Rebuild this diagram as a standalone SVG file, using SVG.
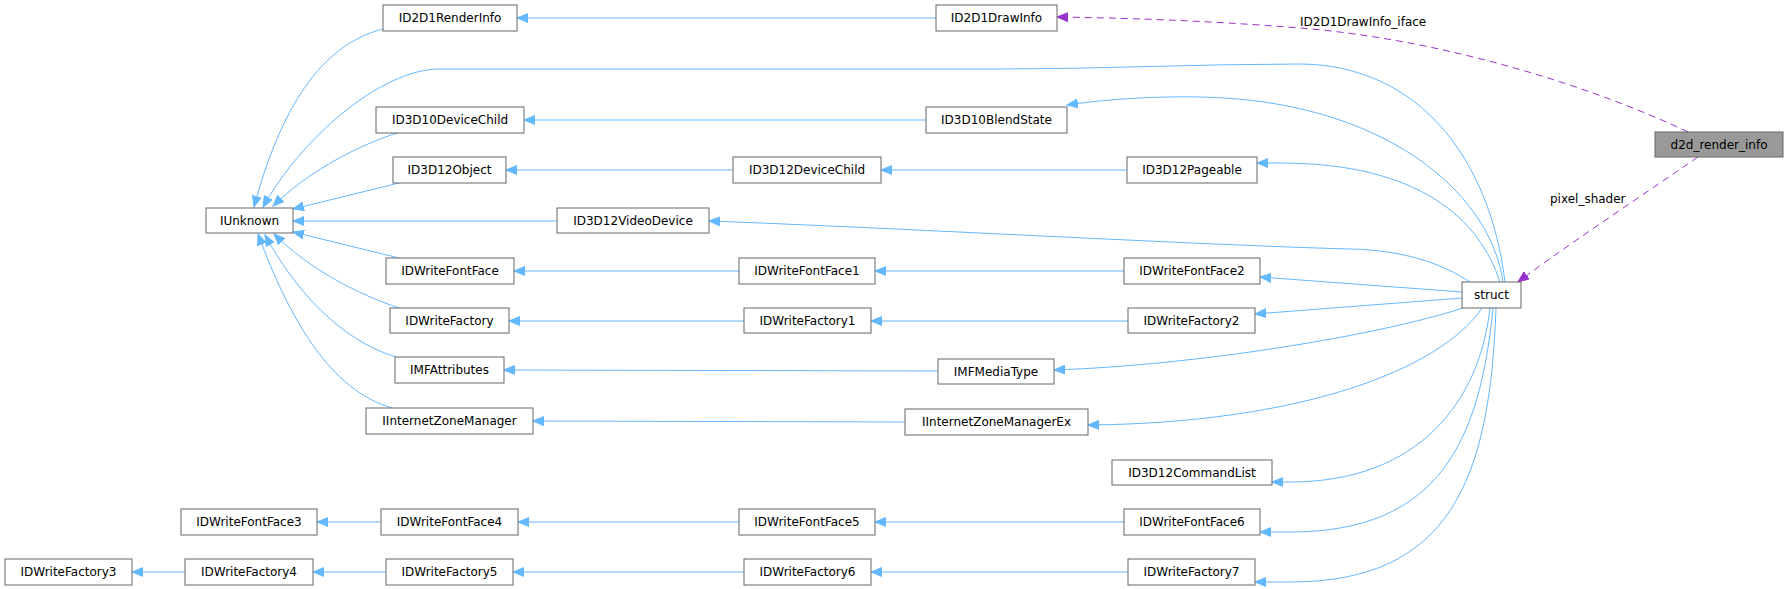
<svg xmlns="http://www.w3.org/2000/svg" width="1788" height="589" viewBox="0 0 1788 589">
<style>
.n rect{fill:#fff;stroke:#666;stroke-width:1}
.n text{font-family:"DejaVu Sans",sans-serif;font-size:12px;fill:#000;text-anchor:middle}
.e path{fill:none;stroke:#63b8ff;stroke-width:1;marker-end:url(#ab)}
.e path.d{stroke:#9a32cd;stroke-dasharray:7,5;marker-end:url(#ap)}
.lbl{font-family:"DejaVu Sans",sans-serif;font-size:12px;fill:#000}
</style>
<defs>
<marker id="ab" markerUnits="userSpaceOnUse" markerWidth="12" markerHeight="10" refX="11" refY="5" orient="auto"><path d="M0,0.5 L11,5 L0,9.5 z" fill="#63b8ff" stroke="#63b8ff"/></marker>
<marker id="ap" markerUnits="userSpaceOnUse" markerWidth="12" markerHeight="10" refX="11" refY="5" orient="auto"><path d="M0,0.5 L11,5 L0,9.5 z" fill="#9a32cd" stroke="#9a32cd"/></marker>
</defs>
<g class="e" id="edges">
<path d="M936,18 L517,18"/>
<path d="M926,120 L524,120"/>
<path d="M733,170 L506,170"/>
<path d="M1127,170 L881,170"/>
<path d="M557,221 L293,221"/>
<path d="M739,271 L514,271"/>
<path d="M1124,271 L875,271"/>
<path d="M744,321 L509,321"/>
<path d="M1128,321 L871,321"/>
<path d="M938,371 L504,370"/>
<path d="M905,422 L533,421"/>
<path d="M381,522 L317,522"/>
<path d="M739,522 L518,522"/>
<path d="M1124,522 L875,522"/>
<path d="M185,572 L132,572"/>
<path d="M386,572 L313,572"/>
<path d="M744,572 L513,572"/>
<path d="M1128,572 L871,572"/>
<path d="M383,29 C320,45 280,110 254,207"/>
<path d="M1505,282 C1490,160 1420,65 1300,64 C1200,64 1100,69 1000,69 L440,69 C380,69 300,140 263,207"/>
<path d="M400,132 C350,148 305,175 273,206"/>
<path d="M399,183 L293,209"/>
<path d="M399,258 L293,232"/>
<path d="M399,308 C360,295 310,270 274,234"/>
<path d="M396,357 C340,340 295,290 265,235"/>
<path d="M392,408 C330,390 290,320 258,234"/>
<path d="M1503,282 C1490,190 1380,100 1200,97 C1150,96 1100,100 1067,105"/>
<path d="M1500,282 C1480,220 1420,163 1280,163 L1257,163"/>
<path d="M1470,282 C1440,262 1400,250 1350,249 C1200,245 900,228 709,221"/>
<path d="M1462,292 L1260,277"/>
<path d="M1462,298 L1255,314"/>
<path d="M1463,308 C1380,335 1200,365 1054,370"/>
<path d="M1482,308 C1440,370 1300,423 1088,425"/>
<path d="M1490,308 C1480,400 1420,482 1290,482 L1272,482"/>
<path d="M1493,308 C1480,440 1440,532 1290,532 L1260,532"/>
<path d="M1496,308 C1490,480 1450,582 1290,582 L1255,582"/>
<path class="d" d="M1688,132 C1600,90 1450,40 1300,28 C1200,20 1120,18 1057,17"/>
<path class="d" d="M1698,157 C1650,190 1560,250 1518,282"/>
</g>
<text class="lbl" x="1300" y="26">ID2D1DrawInfo_iface</text>
<text class="lbl" x="1550" y="203">pixel_shader</text>
<g class="n" id="d2d_render_info"><rect x="1655" y="132" width="128" height="25" style="fill:#999"/><text x="1719" y="149">d2d_render_info</text></g>
<g class="n" id="struct"><rect x="1462" y="282" width="59" height="26"/><text x="1491.5" y="299">struct</text></g>
<g class="n" id="ID2D1RenderInfo"><rect x="383" y="5" width="134" height="26"/><text x="450" y="22">ID2D1RenderInfo</text></g>
<g class="n" id="ID2D1DrawInfo"><rect x="936" y="5" width="121" height="26"/><text x="996.5" y="22">ID2D1DrawInfo</text></g>
<g class="n" id="ID3D10DeviceChild"><rect x="376" y="107" width="148" height="26"/><text x="450" y="124">ID3D10DeviceChild</text></g>
<g class="n" id="ID3D10BlendState"><rect x="926" y="107" width="141" height="26"/><text x="996.5" y="124">ID3D10BlendState</text></g>
<g class="n" id="ID3D12Object"><rect x="393" y="157" width="113" height="26"/><text x="449.5" y="174">ID3D12Object</text></g>
<g class="n" id="ID3D12DeviceChild"><rect x="733" y="157" width="148" height="26"/><text x="807" y="174">ID3D12DeviceChild</text></g>
<g class="n" id="ID3D12Pageable"><rect x="1127" y="157" width="130" height="26"/><text x="1192" y="174">ID3D12Pageable</text></g>
<g class="n" id="IUnknown"><rect x="206" y="208" width="87" height="25"/><text x="249.5" y="225">IUnknown</text></g>
<g class="n" id="ID3D12VideoDevice"><rect x="557" y="208" width="152" height="25"/><text x="633" y="225">ID3D12VideoDevice</text></g>
<g class="n" id="IDWriteFontFace"><rect x="386" y="258" width="128" height="26"/><text x="450" y="275">IDWriteFontFace</text></g>
<g class="n" id="IDWriteFontFace1"><rect x="739" y="258" width="136" height="26"/><text x="807" y="275">IDWriteFontFace1</text></g>
<g class="n" id="IDWriteFontFace2"><rect x="1124" y="258" width="136" height="26"/><text x="1192" y="275">IDWriteFontFace2</text></g>
<g class="n" id="IDWriteFactory"><rect x="390" y="308" width="119" height="25"/><text x="449.5" y="325">IDWriteFactory</text></g>
<g class="n" id="IDWriteFactory1"><rect x="744" y="308" width="127" height="25"/><text x="807.5" y="325">IDWriteFactory1</text></g>
<g class="n" id="IDWriteFactory2"><rect x="1128" y="308" width="127" height="25"/><text x="1191.5" y="325">IDWriteFactory2</text></g>
<g class="n" id="IMFAttributes"><rect x="395" y="357" width="109" height="26"/><text x="449.5" y="374">IMFAttributes</text></g>
<g class="n" id="IMFMediaType"><rect x="938" y="359" width="116" height="25"/><text x="996" y="376">IMFMediaType</text></g>
<g class="n" id="IInternetZoneManager"><rect x="366" y="408" width="167" height="26"/><text x="449.5" y="425">IInternetZoneManager</text></g>
<g class="n" id="IInternetZoneManagerEx"><rect x="905" y="409" width="183" height="26"/><text x="996.5" y="426">IInternetZoneManagerEx</text></g>
<g class="n" id="ID3D12CommandList"><rect x="1112" y="460" width="160" height="25"/><text x="1192" y="477">ID3D12CommandList</text></g>
<g class="n" id="IDWriteFontFace3"><rect x="181" y="509" width="136" height="26"/><text x="249" y="526">IDWriteFontFace3</text></g>
<g class="n" id="IDWriteFontFace4"><rect x="381" y="509" width="137" height="26"/><text x="449.5" y="526">IDWriteFontFace4</text></g>
<g class="n" id="IDWriteFontFace5"><rect x="739" y="509" width="136" height="26"/><text x="807" y="526">IDWriteFontFace5</text></g>
<g class="n" id="IDWriteFontFace6"><rect x="1124" y="509" width="136" height="26"/><text x="1192" y="526">IDWriteFontFace6</text></g>
<g class="n" id="IDWriteFactory3"><rect x="5" y="559" width="127" height="26"/><text x="68.5" y="576">IDWriteFactory3</text></g>
<g class="n" id="IDWriteFactory4"><rect x="185" y="559" width="128" height="26"/><text x="249" y="576">IDWriteFactory4</text></g>
<g class="n" id="IDWriteFactory5"><rect x="386" y="559" width="127" height="26"/><text x="449.5" y="576">IDWriteFactory5</text></g>
<g class="n" id="IDWriteFactory6"><rect x="744" y="559" width="127" height="26"/><text x="807.5" y="576">IDWriteFactory6</text></g>
<g class="n" id="IDWriteFactory7"><rect x="1128" y="559" width="127" height="26"/><text x="1191.5" y="576">IDWriteFactory7</text></g>
</svg>
